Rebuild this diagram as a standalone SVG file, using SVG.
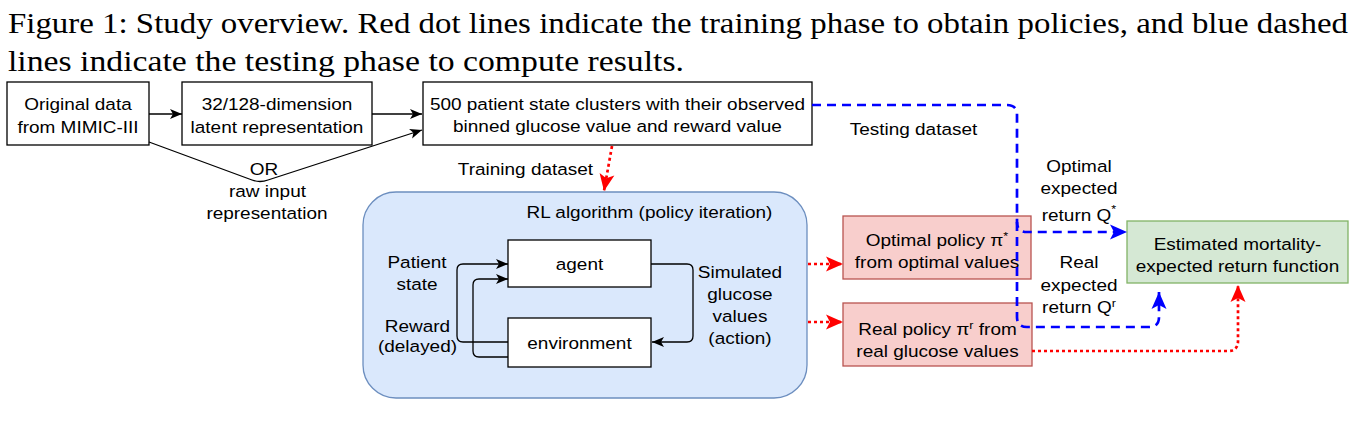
<svg xmlns="http://www.w3.org/2000/svg" width="1366" height="424" viewBox="0 0 1366 424">
<style>
.cap{font-family:"Liberation Serif","Times New Roman",Times,serif;font-size:29.5px;fill:#000}
.t{font-family:"Liberation Sans",Arial,Helvetica,sans-serif;font-size:16.5px;fill:#000;text-anchor:middle;transform-box:fill-box;transform-origin:center;transform:scaleX(1.15)}
.box{fill:#fff;stroke:#000;stroke-width:1.3}
.pol{fill:#f8cecc;stroke:#b85450;stroke-width:1.3}
.est{fill:#d5e8d4;stroke:#82b366;stroke-width:1.3}
.rl{fill:#dae8fc;stroke:#6c8ebf;stroke-width:1.3}
.blk{fill:none;stroke:#000;stroke-width:1.3;marker-end:url(#ab)}
.blu{fill:none;stroke:#0000ff;stroke-width:2.7;stroke-dasharray:9 6;marker-end:url(#au)}
.red{fill:none;stroke:#ff0000;stroke-width:2.7;stroke-dasharray:3 3;marker-end:url(#ar)}
</style>
<defs>
<marker id="ab" markerUnits="userSpaceOnUse" markerWidth="13" markerHeight="10" refX="12" refY="5" orient="auto" overflow="visible"><path d="M0,0 L12,5 L0,10 L3,5 Z" fill="#000"/></marker>
<marker id="au" markerUnits="userSpaceOnUse" markerWidth="18" markerHeight="16" refX="17" refY="7.5" orient="auto" overflow="visible"><path d="M0,0 L17,7.5 L0,15 L4,7.5 Z" fill="#0000ff"/></marker>
<marker id="ar" markerUnits="userSpaceOnUse" markerWidth="18" markerHeight="16" refX="17" refY="7.5" orient="auto" overflow="visible"><path d="M0,0 L17,7.5 L0,15 L4,7.5 Z" fill="#ff0000"/></marker>
</defs>
<rect width="1366" height="424" fill="#fff"/>
<g id="caption">
<text class="cap" font-family="Liberation Serif, Times New Roman, serif" x="8" y="33" textLength="1340" lengthAdjust="spacingAndGlyphs">Figure 1: Study overview. Red dot lines indicate the training phase to obtain policies, and blue dashed</text>
<text class="cap" font-family="Liberation Serif, Times New Roman, serif" x="8" y="71" textLength="676" lengthAdjust="spacingAndGlyphs">lines indicate the testing phase to compute results.</text>
</g>
<g id="rl-algorithm">
<rect class="rl" x="363" y="192" width="444" height="206" rx="33"/>
<text class="t" x="649.5" y="218">RL algorithm (policy iteration)</text>
</g>
<g id="original-data">
<rect class="box" x="7" y="82" width="142" height="63"/>
<text class="t" x="78" y="110">Original data</text>
<text class="t" x="78" y="133">from MIMIC-III</text>
</g>
<g id="latent">
<rect class="box" x="182" y="82" width="190" height="63"/>
<text class="t" x="277" y="110">32/128-dimension</text>
<text class="t" x="277" y="133">latent representation</text>
</g>
<g id="clusters">
<rect class="box" x="423" y="82" width="389" height="63"/>
<text class="t" x="617.5" y="110">500 patient state clusters with their observed</text>
<text class="t" x="617.5" y="132">binned glucose value and reward value</text>
</g>
<g id="agent">
<rect class="box" x="508" y="240" width="143" height="47"/>
<text class="t" x="579.5" y="270">agent</text>
</g>
<g id="environment">
<rect class="box" x="508" y="318" width="143" height="49"/>
<text class="t" x="579.5" y="349">environment</text>
</g>
<g id="optimal-policy">
<rect class="pol" x="843" y="216" width="188" height="63"/>
<text class="t" x="937" y="246">Optimal policy π<tspan dy="-6" font-size="11">*</tspan></text>
<text class="t" x="937" y="268">from optimal values</text>
</g>
<g id="real-policy">
<rect class="pol" x="843" y="303" width="189" height="63"/>
<text class="t" x="937.5" y="335">Real policy π<tspan dy="-6" font-size="11">r</tspan><tspan dy="6"> from</tspan></text>
<text class="t" x="937.5" y="357">real glucose values</text>
</g>
<g id="estimated">
<rect class="est" x="1127" y="221" width="221" height="62"/>
<text class="t" x="1237.5" y="250">Estimated mortality-</text>
<text class="t" x="1237.5" y="272">expected return function</text>
</g>
<g id="connectors">
<path class="blk" d="M149,114 H182"/>
<path class="blk" d="M372,114 H422"/>
<path class="blk" d="M149,142 L252,180 Q260,183 268,180 L422,130"/>
<path class="blk" d="M651,264 H687 Q693,264 693,270 V336 Q693,342 687,342 H652"/>
<path class="blk" d="M508,342 H463 Q457,342 457,336 V270 Q457,264 463,264 H508"/>
<path class="blk" d="M508,357 H479 Q473,357 473,351 V285 Q473,279 479,279 H508"/>
<path class="red" d="M612,146 L604,191"/>
<path class="red" d="M808,264 H843"/>
<path class="red" d="M808,322 H843"/>
<path class="red" d="M1032,351 H1228 Q1238,351 1238,341 V285"/>
<path class="blu" d="M812,105 H1007 Q1017,105 1017,115 V222 Q1017,232 1027,232 H1127"/>
<path class="blu" d="M1017,222 V317 Q1017,327 1027,327 H1149 Q1159,327 1159,317 V292"/>
<g id="edge-labels">
<text class="t" x="264" y="175">OR</text>
<text class="t" x="267.5" y="197">raw input</text>
<text class="t" x="267" y="219">representation</text>
<text class="t" x="525.5" y="175">Training dataset</text>
<text class="t" x="913.5" y="135">Testing dataset</text>
<text class="t" x="1079" y="172">Optimal</text>
<text class="t" x="1079" y="194">expected</text>
<text class="t" x="1079" y="221">return Q<tspan dy="-8" font-size="11">*</tspan></text>
<text class="t" x="1079" y="268">Real</text>
<text class="t" x="1079" y="291">expected</text>
<text class="t" x="1079" y="313">return Q<tspan dy="-6" font-size="11">r</tspan></text>
<text class="t" x="417" y="268">Patient</text>
<text class="t" x="417" y="290">state</text>
<text class="t" x="417.5" y="332">Reward</text>
<text class="t" x="417.5" y="352">(delayed)</text>
<text class="t" x="740" y="278">Simulated</text>
<text class="t" x="740" y="300">glucose</text>
<text class="t" x="740" y="322">values</text>
<text class="t" x="740" y="344">(action)</text>
</g>
</g>
</svg>
